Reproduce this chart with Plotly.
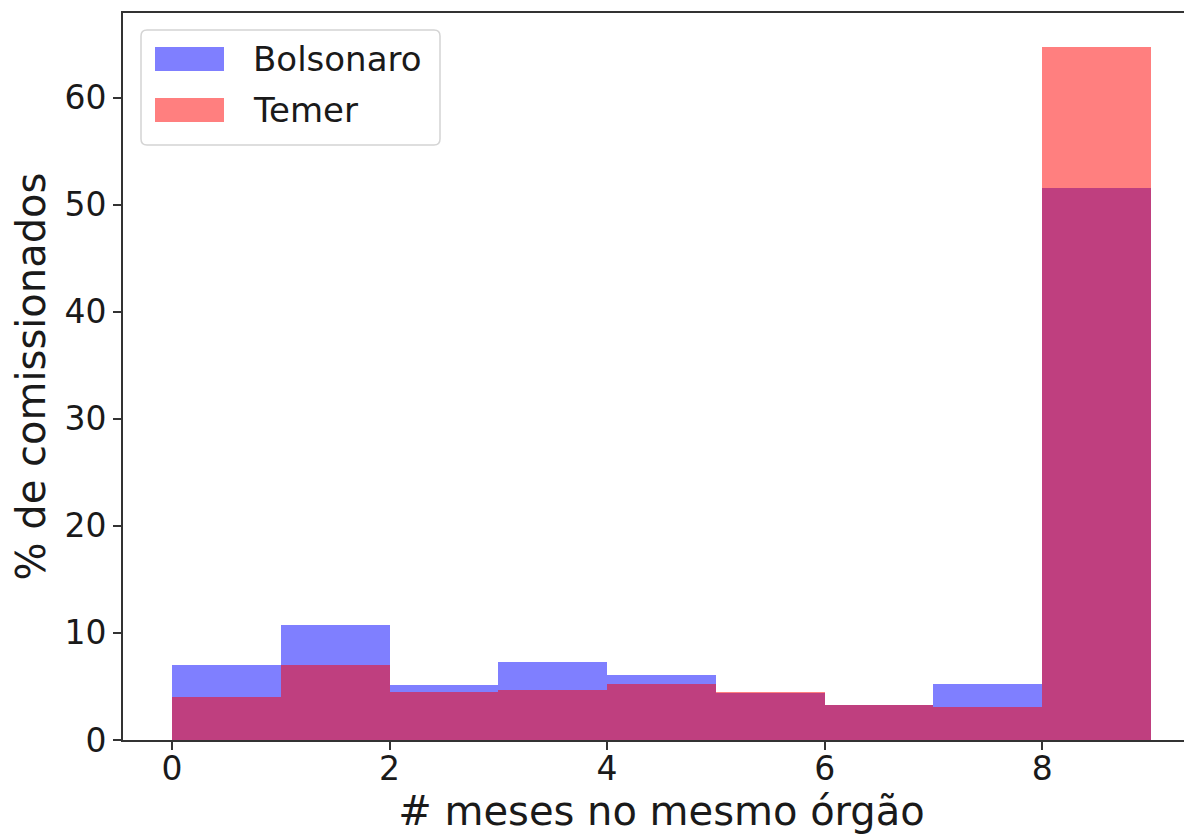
import plotly.graph_objects as go

# Data
bin_left = [0, 1, 2, 3, 4, 5, 6, 7, 8]
bolsonaro = [7.0, 10.7, 5.1, 7.25, 6.1, 4.4, 3.3, 5.2, 51.55]
temer = [4.0, 7.0, 4.45, 4.7, 5.2, 4.5, 3.3, 3.1, 64.74]
series_names = ["Bolsonaro", "Temer"]
x_ticks = [0, 2, 4, 6, 8]
y_ticks = [0, 10, 20, 30, 40, 50, 60]

FONT = "DejaVu Sans"
TXT = "#1a1a1a"
BLUE = "rgba(0,0,255,0.5)"
RED = "rgba(255,0,0,0.5)"

fig = go.Figure()
fig.add_trace(go.Bar(x=bin_left, y=bolsonaro, width=1, offset=0, name=series_names[0],
                     marker=dict(color=BLUE, line=dict(width=0)), showlegend=False))
# Temer drawn on an overlaid y axis that matches y (this axis carries the y title)
fig.add_trace(go.Bar(x=bin_left, y=temer, width=1, offset=0, name=series_names[1],
                     yaxis="y2",
                     marker=dict(color=RED, line=dict(width=0)), showlegend=False))

# Page has an 8px body margin; layout in page pixel coordinates
OFF = 8
W, H = 1192, 838
L_page, T_page, B_page = 123, 13, 740
ml, mt, mr = L_page - OFF, T_page - OFF, 0
mb = H - (B_page - OFF)
R_page = OFF + W - mr
pw, ph = R_page - L_page, B_page - T_page

def px(x):
    return (x - L_page) / pw

def py(y):
    return 1 - (y - T_page) / ph

def rounded_rect(x0, y0, x1, y1, r):
    X0, X1 = px(x0), px(x1)
    Y0, Y1 = py(y0), py(y1)  # Y0 is top (larger)
    rx, ry = r / pw, r / ph
    return (f"M {X0+rx},{Y0} L {X1-rx},{Y0} Q {X1},{Y0} {X1},{Y0-ry} "
            f"L {X1},{Y1+ry} Q {X1},{Y1} {X1-rx},{Y1} L {X0+rx},{Y1} "
            f"Q {X0},{Y1} {X0},{Y1+ry} L {X0},{Y0-ry} Q {X0},{Y0} {X0+rx},{Y0} Z")

shapes = []
shapes.append(dict(type="path", xref="paper", yref="paper",
                   path=rounded_rect(141, 30, 440, 145, 6),
                   line=dict(color="#d4d4d4", width=1.5), fillcolor="rgba(255,255,255,0.8)",
                   layer="above"))
for i, (nm, col) in enumerate(zip(series_names, [BLUE, RED])):
    yc = 59 + i * 51
    shapes.append(dict(type="rect", xref="paper", yref="paper",
                       x0=px(155), x1=px(224), y0=py(yc + 12), y1=py(yc - 12),
                       line=dict(width=0), fillcolor=col, layer="above"))
    fig.add_annotation(xref="paper", yref="paper", x=px(251), y=py(yc),
                       text=nm, showarrow=False, xanchor="left", yanchor="middle",
                       font=dict(family=FONT, size=34, color=TXT))

fig.update_layout(
    width=W, height=H,
    margin=dict(l=ml, r=mr, t=mt, b=mb, autoexpand=False),
    paper_bgcolor="white", plot_bgcolor="white",
    barmode="overlay", bargap=0,
    shapes=shapes,
    font=dict(family=FONT, size=33, color=TXT),
    xaxis=dict(range=[-0.45, 9.45], tickvals=x_ticks, ticks="outside", ticklen=8,
               tickwidth=2, tickcolor="#333", showline=True, linecolor="#333", linewidth=2,
               mirror=True, showgrid=False, zeroline=False, automargin=False,
               ticklabelstandoff=-10,
               tickfont=dict(family=FONT, size=33, color=TXT),
               title=dict(text="# meses no mesmo órgão", standoff=10,
                          font=dict(family=FONT, size=40, color=TXT))),
    yaxis=dict(range=[0, 67.9], tickvals=y_ticks, ticks="outside", ticklen=8,
               tickwidth=2, tickcolor="#333", showline=True, linecolor="#333", linewidth=2,
               showgrid=False, zeroline=False, ticklabelstandoff=0, automargin=False,
               tickfont=dict(family=FONT, size=33, color=TXT)),
    yaxis2=dict(overlaying="y", matches="y", side="left", showticklabels=False,
                ticks="", showline=False, showgrid=False, zeroline=False, automargin=False,
                title=dict(text="% de comissionados", standoff=76,
                           font=dict(family=FONT, size=40, color=TXT))),
)

fig.write_html("out.html")
